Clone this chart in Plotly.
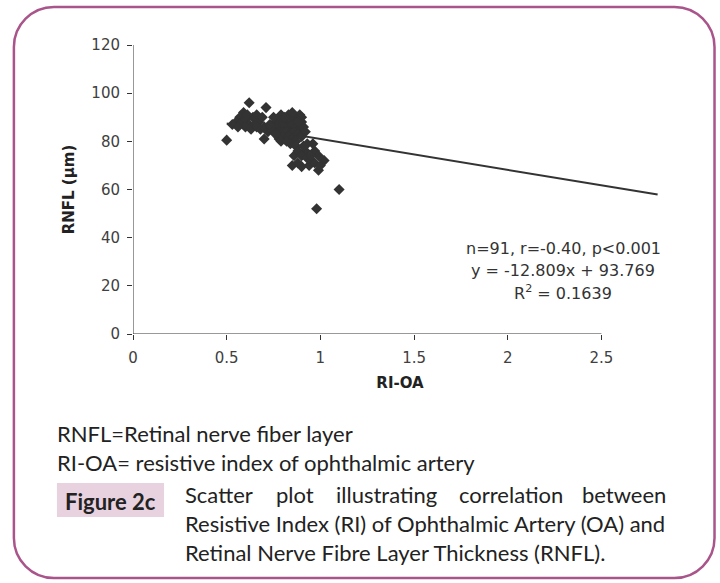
import plotly.graph_objects as go

# ---------------- data ----------------
ri_oa = [0.50, 0.62, 0.71, 0.59, 0.57, 0.55, 0.58, 0.60, 0.62, 0.64,
         0.65, 0.67, 0.60, 0.63, 0.68, 0.70, 0.72, 0.66, 0.69, 0.70,
         0.78, 0.81, 0.79, 0.83, 0.89, 0.76, 0.78, 0.80, 0.82, 0.84,
         0.86, 0.88, 0.90, 0.77, 0.79, 0.81, 0.83, 0.85, 0.87, 0.89,
         0.91, 0.78, 0.80, 0.82, 0.84, 0.86, 0.88, 0.90, 0.80, 0.83,
         0.85, 0.87, 0.84, 0.87, 0.86, 0.85, 0.90, 0.94, 0.92, 0.97,
         0.99, 1.02, 0.99, 1.10, 0.98, 0.88, 0.90, 0.93, 0.95, 0.97,
         1.00, 0.91, 0.95, 0.88, 0.93, 0.74, 0.73, 0.75, 0.81, 0.85,
         0.90, 0.92, 0.76, 0.53, 0.56, 0.61, 0.66, 0.79, 0.82, 0.96,
         0.88]
rnfl = [80.5, 96, 94, 92, 90, 88, 88, 89, 87, 90,
        87, 88, 86, 85, 85, 86, 84, 91, 90, 81,
        81, 81, 91, 91, 91, 88, 89, 88, 89, 88,
        90, 89, 88, 86, 86, 86, 86, 87, 86, 85,
        86, 84, 84, 84, 83, 84, 83, 82, 82, 82,
        81, 80, 79, 78, 74, 70, 69.5, 70, 76, 76,
        74, 72, 68, 60, 52, 76, 74, 73, 72, 71,
        70, 78, 74, 71, 79, 85, 87, 90, 90, 92,
        90, 84, 83, 87, 86, 91, 86, 80, 80, 79,
        88]

slope = -12.809
intercept = 93.769
trend_x = [0.5, 2.8]
trend_y = [slope * v + intercept for v in trend_x]

x_ticks = [0, 0.5, 1, 1.5, 2, 2.5]
x_tick_labels = ["0", "0.5", "1", "1.5", "2", "2.5"]
y_ticks = [0, 20, 40, 60, 80, 100, 120]

stats_lines = ["n=91, r=-0.40, p<0.001", "y = -12.809x + 93.769", "R<sup>2</sup> = 0.1639"]
note_lines = ["RNFL=Retinal nerve fiber layer", "RI-OA= resistive index of ophthalmic artery"]
fig_label = "Figure 2c"
caption_first_words = ["Scatter", "plot", "illustrating", "correlation", "between"]
caption_lines = ["Resistive Index (RI) of Ophthalmic Artery (OA) and",
                 "Retinal Nerve Fibre Layer Thickness (RNFL)."]

# ---------------- layout geometry ----------------
WIDTH, HEIGHT = 720, 583
L, T, B = 133, 45, 249
X_MAX = 2.85
PX_PER_UNIT = 187.2
R = WIDTH - L - X_MAX * PX_PER_UNIT
PW = WIDTH - L - R
PH = HEIGHT - T - B


def px(x):
    return (x - L) / PW


def py(y):
    return (HEIGHT - B - y) / PH


TEXT = "#333333"
FRAME = "#a9548a"
AXIS_FONT = "DejaVu Sans, Liberation Sans, Arial, sans-serif"
CAP_FONT = "Lato, Open Sans, sans-serif"
CAP_SIZE = 22

fig = go.Figure()
fig.add_trace(go.Scatter(x=trend_x, y=trend_y, mode="lines",
                         line=dict(color="#333333", width=2), hoverinfo="skip",
                         showlegend=False, cliponaxis=False))
fig.add_trace(go.Scatter(x=ri_oa, y=rnfl, mode="markers",
                         marker=dict(symbol="diamond", size=8.5, color="#333333",
                                     line=dict(width=0)),
                         showlegend=False, cliponaxis=False))

shapes = []
# axis lines
shapes.append(dict(type="line", xref="x", yref="y", x0=0, x1=2.5, y0=0, y1=0,
                   line=dict(color="#333333", width=1)))
shapes.append(dict(type="line", xref="x", yref="y", x0=0, x1=0, y0=0, y1=120,
                   line=dict(color="#333333", width=1)))

# rounded frame
fl, fr, ft, fb, rad = 14, 714, 7, 578, 40
k = 0.5523 * rad


def P(x, y):
    return f"{px(x):.5f},{py(y):.5f}"


path = (f"M {P(fl + rad, ft)} L {P(fr - rad, ft)} "
        f"C {P(fr - rad + k, ft)} {P(fr, ft + rad - k)} {P(fr, ft + rad)} "
        f"L {P(fr, fb - rad)} "
        f"C {P(fr, fb - rad + k)} {P(fr - rad + k, fb)} {P(fr - rad, fb)} "
        f"L {P(fl + rad, fb)} "
        f"C {P(fl + rad - k, fb)} {P(fl, fb - rad + k)} {P(fl, fb - rad)} "
        f"L {P(fl, ft + rad)} "
        f"C {P(fl, ft + rad - k)} {P(fl + rad - k, ft)} {P(fl + rad, ft)} Z")
shapes.append(dict(type="path", xref="paper", yref="paper", path=path,
                   line=dict(color=FRAME, width=2.5), layer="below"))

# figure label box
shapes.append(dict(type="rect", xref="paper", yref="paper",
                   x0=px(57), x1=px(164), y0=py(517), y1=py(483),
                   fillcolor="#e8d2df", line=dict(width=0), layer="below"))

annotations = []
# stats text
for i, s in enumerate(stats_lines):
    annotations.append(dict(xref="paper", yref="paper", x=px(563), y=py(249 + 21.5 * i),
                            text=s, showarrow=False, xanchor="center", yanchor="middle",
                            font=dict(family=AXIS_FONT, size=16, color=TEXT)))
# notes
for i, s in enumerate(note_lines):
    annotations.append(dict(xref="paper", yref="paper", x=px(55), y=py(433 + 29 * i),
                            text=s, showarrow=False, xanchor="left", yanchor="middle",
                            font=dict(family=CAP_FONT, size=CAP_SIZE, color="#222222")))
annotations.append(dict(xref="paper", yref="paper", x=px(110.5), y=py(501),
                        text=f"<b>{fig_label}</b>", showarrow=False, xanchor="center",
                        yanchor="middle", font=dict(family=CAP_FONT, size=CAP_SIZE, color="#222222")))
# justified first caption line: words spread between left and right
cap_left, cap_right = 183, 668
word_pos = [183, 274, 334, 457, 668]
for w, xw in zip(caption_first_words, word_pos):
    anchor = "right" if w == caption_first_words[-1] else "left"
    annotations.append(dict(xref="paper", yref="paper", x=px(xw), y=py(494),
                            text=w, showarrow=False, xanchor=anchor, yanchor="middle",
                            font=dict(family=CAP_FONT, size=CAP_SIZE, color="#222222")))
for i, s in enumerate(caption_lines):
    annotations.append(dict(xref="paper", yref="paper", x=px(cap_left), y=py(523 + 29 * i),
                            text=s, showarrow=False, xanchor="left", yanchor="middle",
                            font=dict(family=CAP_FONT, size=CAP_SIZE, color="#222222")))

fig.update_layout(
    width=WIDTH, height=HEIGHT,
    margin=dict(l=L, r=R, t=T, b=B, pad=0),
    paper_bgcolor="white", plot_bgcolor="white",
    shapes=shapes, annotations=annotations,
    xaxis=dict(range=[0, X_MAX], tickvals=x_ticks, ticktext=x_tick_labels,
               ticks="outside", ticklen=5, tickcolor="#333333", showgrid=False,
               zeroline=False, showline=False, ticklabelstandoff=5,
               tickfont=dict(family=AXIS_FONT, size=15, color="#404040"),
               title=dict(text="<b>RI-OA</b>", standoff=11,
                          font=dict(family=AXIS_FONT, size=15, color="#222222"))),
    yaxis=dict(range=[0, 120], tickvals=y_ticks, ticks="outside", ticklen=5,
               tickcolor="#333333", showgrid=False, zeroline=False, showline=False,
               ticklabelstandoff=4,
               tickfont=dict(family=AXIS_FONT, size=15, color="#404040"),
               title=dict(text="<b>RNFL (µm)</b>", standoff=13,
                          font=dict(family=AXIS_FONT, size=15, color="#222222"))),
)

fig.write_html("out.html", config={"displayModeBar": False},
               post_script="document.body.style.margin='0';document.body.style.overflow='hidden';")
